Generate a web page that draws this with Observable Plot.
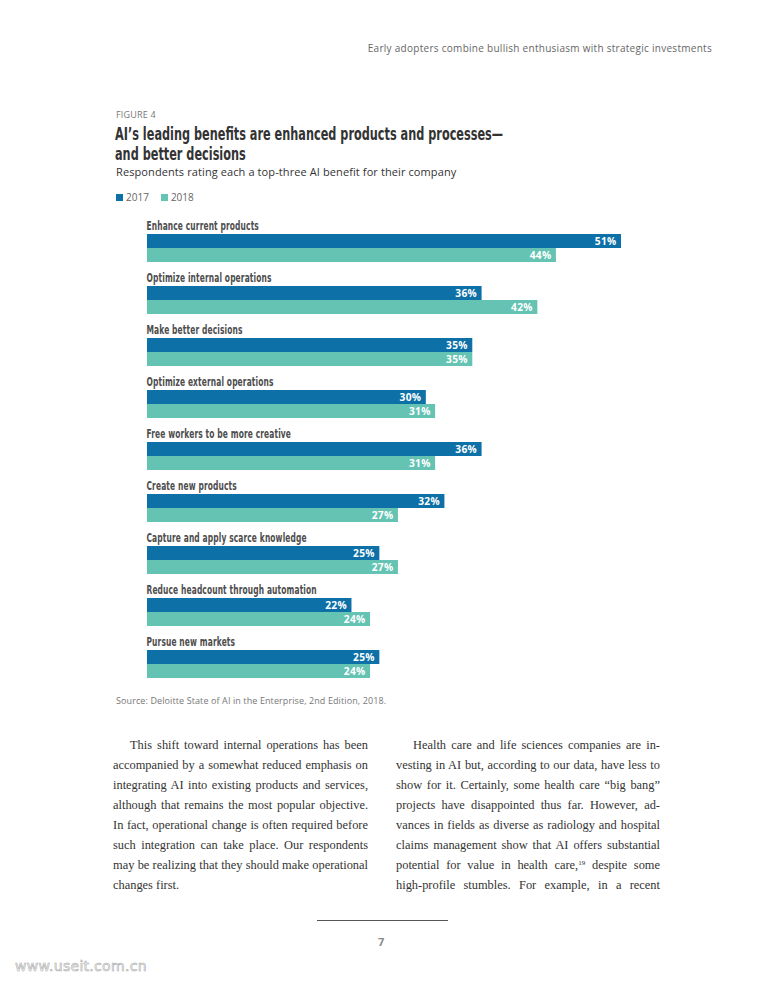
<!DOCTYPE html>
<html>
<head>
<meta charset="utf-8">
<script src="https://cdn.jsdelivr.net/npm/d3@7"></script>
<script src="https://cdn.jsdelivr.net/npm/@observablehq/plot@0.6"></script>
<style>
  html, body { margin:0; padding:0; background:#fff; }
  body { width:765px; height:990px; position:relative; overflow:hidden; font-family:"Open Sans", sans-serif; }
  .abs { position:absolute; white-space:nowrap; }
  #header { right:53px; top:41px; font-size:10px; color:#666; letter-spacing:0.28px; }
  #fig { left:116px; top:108px; font-size:9px; color:#777; letter-spacing:0.2px; }
  #title { left:115px; top:124px; font-family:"DejaVu Sans", sans-serif; font-size:17.5px; line-height:20px; font-weight:bold; color:#333;
           transform:scaleX(0.645); transform-origin:0 0; }
  #subtitle { left:116px; top:164px; font-size:11px; color:#333; letter-spacing:0.1px; }
  #legend { left:116px; top:190px; font-size:10px; color:#666; display:flex; align-items:center; }
  #legend span.sw { display:inline-block; width:7px; height:7px; margin-right:3px; }
  #legend span.item { display:inline-flex; align-items:center; margin-right:12px; }
  #chart { position:absolute; left:0; top:208px; }
  #source { left:116px; top:694px; font-size:9px; color:#777; letter-spacing:0.1px; }
  .col { position:absolute; top:735px; font-family:"Liberation Serif","DejaVu Serif",serif; font-size:12.4px; color:#333; line-height:20px; }
  .col div { text-align:justify; text-align-last:justify; white-space:nowrap; }
  .col div.last { text-align-last:left; }
  .col div.first { text-indent:17px; }
  #colL { left:113px; width:255px; }
  #colR { left:396px; width:264px; }
  sup { font-size:7px; line-height:0; vertical-align:4px; }
  #rule { position:absolute; left:317px; top:920px; width:131px; height:0; border-top:1px solid #555; }
  #page { left:378px; top:934px; font-size:11px; font-weight:bold; color:#888; }
  #wm { left:15px; top:958px; font-size:14px; color:#fff; -webkit-text-stroke:0.6px #aaa; font-family:"DejaVu Sans", sans-serif; letter-spacing:0.3px; }
</style>
</head>
<body>
<div id="header" class="abs">Early adopters combine bullish enthusiasm with strategic investments</div>
<div id="fig" class="abs">FIGURE 4</div>
<div id="title" class="abs">AI’s leading benefits are enhanced products and processes—<br>and better decisions</div>
<div id="subtitle" class="abs">Respondents rating each a top-three AI benefit for their company</div>
<div id="legend" class="abs"></div>
<div id="chart"></div>
<div id="source" class="abs">Source: Deloitte State of AI in the Enterprise, 2nd Edition, 2018.</div>

<div id="colL" class="col">
  <div class="first">This shift toward internal operations has been</div>
  <div>accompanied by a somewhat reduced emphasis on</div>
  <div>integrating AI into existing products and services,</div>
  <div>although that remains the most popular objective.</div>
  <div>In fact, operational change is often required before</div>
  <div>such integration can take place. Our respondents</div>
  <div>may be realizing that they should make operational</div>
  <div class="last">changes first.</div>
</div>
<div id="colR" class="col">
  <div class="first">Health care and life sciences companies are in-</div>
  <div>vesting in AI but, according to our data, have less to</div>
  <div>show for it. Certainly, some health care “big bang”</div>
  <div>projects have disappointed thus far. However, ad-</div>
  <div>vances in fields as diverse as radiology and hospital</div>
  <div>claims management show that AI offers substantial</div>
  <div>potential for value in health care,<sup>19</sup> despite some</div>
  <div>high-profile stumbles. For example, in a recent</div>
</div>
<div id="rule"></div>
<div id="page" class="abs">7</div>
<div id="wm" class="abs">www.useit.com.cn</div>

<script>
const categories = [
  "Enhance current products",
  "Optimize internal operations",
  "Make better decisions",
  "Optimize external operations",
  "Free workers to be more creative",
  "Create new products",
  "Capture and apply scarce knowledge",
  "Reduce headcount through automation",
  "Pursue new markets"
];
const years = ["2017", "2018"];
const values2017 = [51, 36, 35, 30, 36, 32, 25, 22, 25];
const values2018 = [44, 42, 35, 31, 31, 27, 27, 24, 24];
const colors = ["#0d70a6", "#65c3b3"];

const rows = [];
categories.forEach((c, i) => {
  rows.push({category: c, year: years[0], value: values2017[i]});
  rows.push({category: c, year: years[1], value: values2018[i]});
});

// legend
const legend = document.getElementById("legend");
years.forEach((y, i) => {
  const item = document.createElement("span");
  item.className = "item";
  item.innerHTML = `<span class="sw" style="background:${colors[i]}"></span>${y}`;
  legend.appendChild(item);
});

const chart = Plot.plot({
  width: 765,
  height: 478,
  marginLeft: 147,
  marginRight: 144,
  marginTop: 23,
  marginBottom: 6,
  style: {fontFamily: "'Open Sans', sans-serif", background: "transparent"},
  x: {domain: [0, 51], axis: null},
  y: {domain: years, axis: null, paddingInner: 0.035, paddingOuter: 0},
  fy: {domain: categories, axis: null, paddingInner: 0.448, paddingOuter: 0},
  color: {domain: years, range: colors},
  marks: [
    Plot.barX(rows, {x: "value", y: "year", fy: "category", fill: "year"}),
    Plot.text(rows, {
      x: "value", y: "year", fy: "category",
      text: d => d.value + "%",
      textAnchor: "end", dx: -5, dy: 0.5,
      fill: "white", fontWeight: "bold", fontSize: 10.2,
      fontFamily: "'Open Sans', sans-serif"
    }),
    Plot.text(categories, {
      fy: d => d,
      text: d => d,
      frameAnchor: "top-left",
      lineAnchor: "bottom",
      dx: -1, dy: -4,
      fill: "#4d4d4d",
      fontWeight: "bold",
      fontSize: 11.8,
      fontFamily: "'DejaVu Sans', sans-serif",
      className: "catlabel"
    })
  ]
});
// value labels: slight letter spacing
chart.querySelectorAll("text").forEach(t => t.style.letterSpacing = "0.3px");
// category labels: condensed look by horizontal scaling around the anchor
const s = 0.635;
chart.querySelectorAll(".catlabel text").forEach(t => {
  const tr = t.getAttribute("transform") || "";
  const x = t.getAttribute("x");
  if (x != null) t.setAttribute("x", (+x) / s);
  t.setAttribute("transform", (tr + ` scale(${s},1)`).trim());
  t.style.letterSpacing = "0.2px";
});
document.getElementById("chart").appendChild(chart);
</script>
</body>
</html>
